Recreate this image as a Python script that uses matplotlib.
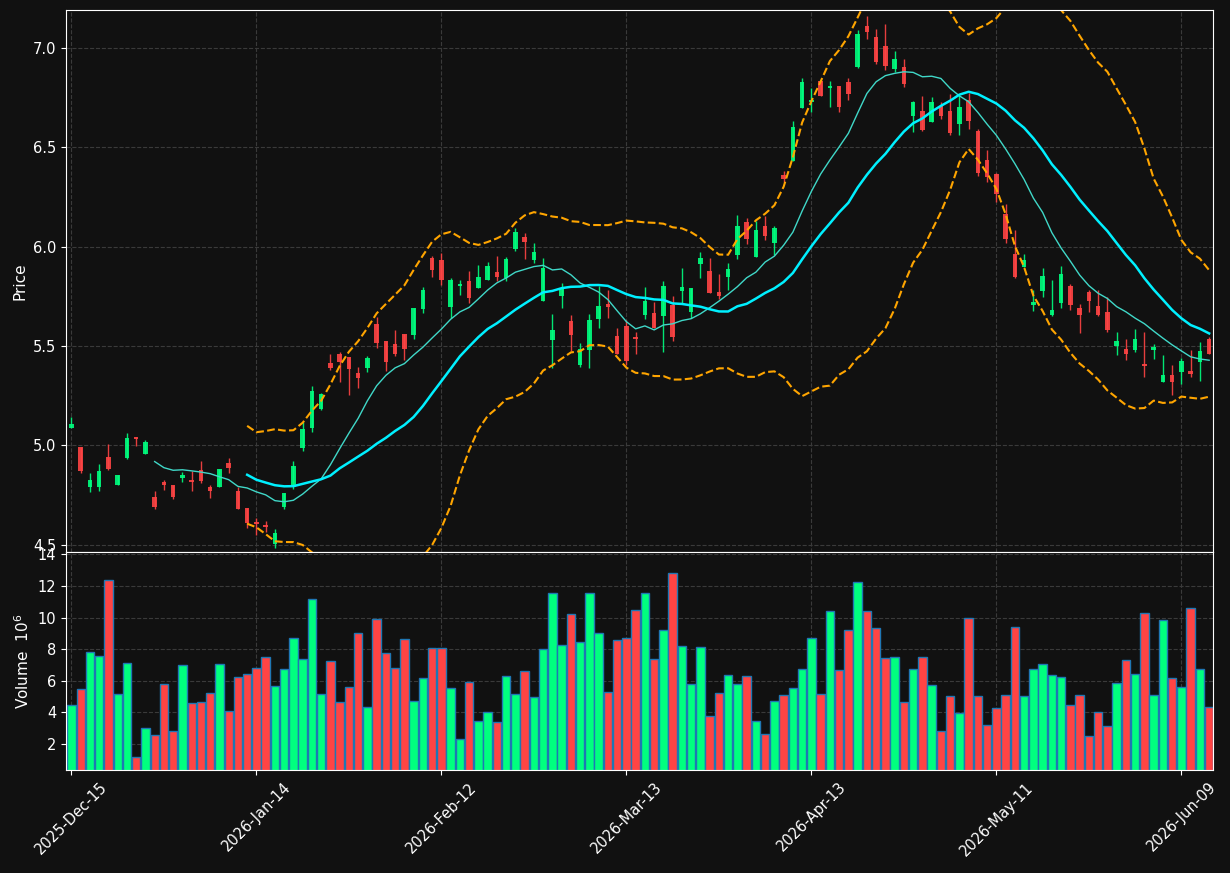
import pandas as pd
import matplotlib
matplotlib.use("Agg")
import matplotlib.pyplot as plt

# trading days (NYSE holidays removed)
holidays = ["2025-12-25", "2026-01-01", "2026-01-19", "2026-02-16",
            "2026-04-03", "2026-05-25"]
dates = pd.bdate_range("2025-12-15", "2026-06-12", freq="C", holidays=holidays)

opens = [5.089, 4.991, 4.790, 4.790, 4.941, 4.800, 4.936, 5.042, 4.956, 4.740,
         4.815, 4.800, 4.835, 4.825, 4.877, 4.790, 4.790, 4.911, 4.770, 4.684,
         4.609, 4.599, 4.503, 4.691, 4.790, 4.986, 5.089, 5.183, 5.414, 5.460,
         5.445, 5.364, 5.389, 5.611, 5.526, 5.510, 5.561, 5.555, 5.687, 5.943,
         5.933, 5.696, 5.799, 5.827, 5.792, 5.832, 5.873, 5.842, 5.988, 6.049,
         5.933, 5.727, 5.531, 5.752, 5.626, 5.405, 5.480, 5.636, 5.712, 5.550,
         5.601, 5.545, 5.657, 5.666, 5.651, 5.707, 5.777, 5.671, 5.913, 5.878,
         5.772, 5.848, 5.958, 6.124, 5.948, 6.104, 6.019, 6.361, 6.432, 6.699,
         6.729, 6.834, 6.796, 6.809, 6.830, 6.905, 7.111, 7.056, 7.010, 6.895,
         6.905, 6.658, 6.683, 6.628, 6.708, 6.683, 6.618, 6.739, 6.583, 6.437,
         6.366, 6.165, 5.960, 5.899, 5.708, 5.778, 5.658, 5.718, 5.802, 5.691,
         5.772, 5.701, 5.671, 5.501, 5.483, 5.481, 5.406, 5.481, 5.320, 5.352,
         5.371, 5.373, 5.421, 5.534]
highs = [5.141, 4.991, 4.859, 4.904, 5.005, 4.850, 5.060, 5.042, 5.025, 4.770,
         4.825, 4.800, 4.866, 4.871, 4.921, 4.800, 4.881, 4.936, 4.789, 4.684,
         4.635, 4.619, 4.577, 4.760, 4.921, 5.119, 5.299, 5.262, 5.460, 5.468,
         5.445, 5.394, 5.450, 5.643, 5.526, 5.581, 5.561, 5.692, 5.796, 5.953,
         5.967, 5.841, 5.831, 5.876, 5.906, 5.921, 5.952, 5.947, 6.094, 6.067,
         6.019, 5.942, 5.660, 5.817, 5.656, 5.514, 5.660, 5.802, 5.780, 5.592,
         5.631, 5.571, 5.796, 5.720, 5.827, 5.750, 5.891, 5.792, 5.975, 5.940,
         5.861, 5.916, 6.158, 6.145, 6.129, 6.155, 6.104, 6.381, 6.633, 6.849,
         6.799, 6.840, 6.833, 6.809, 6.849, 7.090, 7.162, 7.096, 7.118, 6.984,
         6.944, 6.734, 6.759, 6.750, 6.729, 6.766, 6.764, 6.774, 6.593, 6.485,
         6.370, 6.213, 6.081, 5.962, 5.782, 5.891, 5.832, 5.901, 5.812, 5.710,
         5.782, 5.782, 5.748, 5.572, 5.534, 5.584, 5.572, 5.512, 5.453, 5.403,
         5.441, 5.481, 5.522, 5.547]
lows = [5.089, 4.862, 4.766, 4.771, 4.876, 4.800, 4.931, 4.998, 4.956, 4.681,
        4.773, 4.728, 4.817, 4.771, 4.810, 4.736, 4.790, 4.861, 4.679, 4.585,
        4.548, 4.565, 4.481, 4.681, 4.778, 4.973, 5.068, 5.179, 5.378, 5.317,
        5.255, 5.290, 5.368, 5.490, 5.373, 5.450, 5.428, 5.537, 5.665, 5.847,
        5.807, 5.642, 5.758, 5.717, 5.792, 5.832, 5.827, 5.826, 5.980, 5.937,
        5.918, 5.725, 5.391, 5.693, 5.475, 5.396, 5.388, 5.592, 5.642, 5.460,
        5.404, 5.461, 5.634, 5.591, 5.468, 5.525, 5.717, 5.641, 5.844, 5.767,
        5.737, 5.782, 5.937, 6.015, 5.948, 6.034, 5.958, 6.326, 6.432, 6.699,
        6.679, 6.759, 6.700, 6.675, 6.735, 6.900, 7.042, 6.916, 6.886, 6.880,
        6.804, 6.578, 6.579, 6.628, 6.643, 6.562, 6.559, 6.591, 6.353, 6.327,
        6.222, 6.020, 5.841, 5.899, 5.678, 5.748, 5.648, 5.690, 5.680, 5.564,
        5.670, 5.648, 5.572, 5.453, 5.431, 5.471, 5.342, 5.433, 5.320, 5.252,
        5.310, 5.342, 5.322, 5.461]
closes = [5.107, 4.871, 4.825, 4.871, 4.881, 4.850, 5.037, 5.032, 5.017, 4.689,
          4.800, 4.740, 4.850, 4.817, 4.820, 4.770, 4.881, 4.886, 4.679, 4.609,
          4.604, 4.590, 4.558, 4.760, 4.896, 5.082, 5.273, 5.258, 5.389, 5.419,
          5.384, 5.339, 5.440, 5.516, 5.419, 5.460, 5.485, 5.692, 5.782, 5.883,
          5.832, 5.832, 5.812, 5.742, 5.847, 5.903, 5.847, 5.938, 6.074, 6.024,
          5.973, 5.893, 5.581, 5.792, 5.555, 5.485, 5.631, 5.701, 5.696, 5.460,
          5.424, 5.535, 5.727, 5.591, 5.802, 5.545, 5.797, 5.792, 5.943, 5.767,
          5.752, 5.888, 6.104, 6.039, 6.084, 6.054, 6.094, 6.341, 6.603, 6.830,
          6.739, 6.759, 6.809, 6.700, 6.770, 7.071, 7.081, 6.930, 6.910, 6.945,
          6.819, 6.728, 6.588, 6.728, 6.658, 6.573, 6.703, 6.633, 6.372, 6.352,
          6.262, 6.040, 5.846, 5.933, 5.722, 5.853, 5.681, 5.863, 5.708, 5.658,
          5.728, 5.658, 5.582, 5.524, 5.461, 5.534, 5.401, 5.493, 5.352, 5.320,
          5.423, 5.361, 5.473, 5.461]
volumes = [4.45, 5.46, 7.80, 7.55, 12.36, 5.15, 7.11, 1.16, 2.99, 2.55,
           5.78, 2.80, 6.98, 4.58, 4.64, 5.21, 7.04, 4.11, 6.22, 6.41,
           6.79, 7.49, 5.65, 6.73, 8.69, 7.36, 11.16, 5.15, 7.23, 4.64,
           5.59, 9.00, 4.32, 9.89, 7.74, 6.79, 8.63, 4.70, 6.16, 8.06,
           8.06, 5.53, 2.30, 5.91, 3.44, 4.01, 3.37, 6.28, 5.15, 6.60,
           4.96, 7.99, 11.54, 8.25, 10.21, 8.44, 11.54, 9.00, 5.27, 8.56,
           8.69, 10.46, 11.54, 7.36, 9.20, 12.80, 8.18, 5.78, 8.12, 3.75,
           5.21, 6.35, 5.78, 6.28, 3.44, 2.61, 4.70, 5.08, 5.53, 6.73,
           8.69, 5.15, 10.40, 6.66, 9.20, 12.23, 10.40, 9.32, 7.42, 7.49,
           4.64, 6.73, 7.49, 5.72, 2.80, 5.02, 3.94, 9.96, 5.02, 3.18,
           4.26, 5.08, 9.39, 5.02, 6.73, 7.04, 6.35, 6.22, 4.45, 5.08,
           2.49, 4.01, 3.12, 5.84, 7.30, 6.41, 10.27, 5.08, 9.83, 6.16,
           5.59, 10.59, 6.73, 4.32]

df = pd.DataFrame({"Open": opens, "High": highs, "Low": lows,
                   "Close": closes, "Volume": volumes}, index=dates)

BG = "#111111"
UP = "#00ff7f"
DOWN = "#ff4444"


def style_axis(ax):
    ax.set_facecolor(BG)
    for s in ax.spines.values():
        s.set_color("white")
    ax.tick_params(colors="white", labelsize=10.5)
    ax.grid(True, color="#3a3a3a", linestyle="--", linewidth=0.8)
    ax.set_axisbelow(True)


def main():
    x = list(range(len(df)))
    up = df["Close"] >= df["Open"]
    colors = [UP if u else DOWN for u in up]

    ma10 = df["Close"].rolling(10).mean()
    ma20 = df["Close"].rolling(20).mean()
    sd20 = df["Close"].rolling(20).std(ddof=0)

    fig = plt.figure(figsize=(12.3, 8.73), dpi=100, facecolor=BG)
    ax = fig.add_axes([0.0537, 0.3677, 0.9325, 0.6208])
    axv = fig.add_axes([0.0537, 0.118, 0.9325, 0.2497], sharex=ax)
    style_axis(ax)
    style_axis(axv)

    # candles
    ax.vlines(x, df["Low"], df["High"], colors=colors, linewidth=1, alpha=0.9)
    body = (df["Close"] - df["Open"]).abs().clip(lower=0.008)
    bottom = df[["Open", "Close"]].min(axis=1)
    ax.bar(x, body, bottom=bottom, width=0.5, color=colors, alpha=0.9, linewidth=0)

    ax.plot(x, ma10, color="#40d8c8", linewidth=1)
    ax.plot(x, ma20, color="#00f0ff", linewidth=1.8)
    ax.plot(x, ma20 + 2 * sd20, color="orange", linestyle="--", linewidth=1.5)
    ax.plot(x, ma20 - 2 * sd20, color="orange", linestyle="--", linewidth=1.5)

    ax.set_ylim(4.463, 7.19)
    ax.set_yticks([4.5, 5.0, 5.5, 6.0, 6.5, 7.0])
    ax.set_yticklabels(["4.5", "5.0", "5.5", "6.0", "6.5", "7.0"])
    ax.set_ylabel("Price", color="white", fontsize=11)
    ax.tick_params(axis="x", labelbottom=False, length=0)

    # volume
    axv.bar(x, df["Volume"], width=0.9, color=colors, edgecolor="#1f77b4", linewidth=1)
    axv.set_ylim(0.36, 14.15)
    axv.set_yticks(range(2, 15, 2))
    axv.set_ylabel("Volume  $10^6$", color="white", fontsize=11)

    ticks = list(range(0, len(df), 20))
    axv.set_xticks(ticks)
    axv.set_xticklabels([dates[i].strftime("%Y-%b-%d") for i in ticks], rotation=45)
    axv.set_xlim(-0.58, 123.42)

    fig.savefig("out.png", facecolor=BG)


if __name__ == "__main__":
    main()
